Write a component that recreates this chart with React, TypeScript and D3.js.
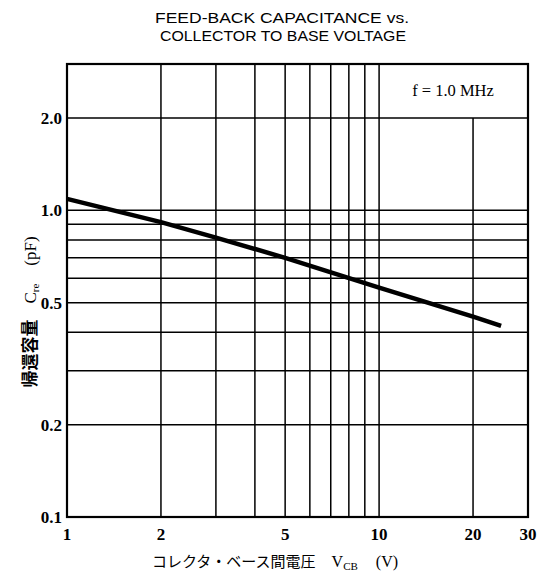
import React from "react";
import * as d3 from "d3";

const voltage = [1, 2, 3, 5, 10, 20, 24.6];
const capacitance = [1.09, 0.915, 0.815, 0.70, 0.56, 0.45, 0.42];

const xGrid = [2, 3, 4, 5, 6, 7, 8, 9, 10, 20];
const yGrid = [0.2, 0.3, 0.4, 0.5, 0.6, 0.7, 0.8, 0.9, 1.0, 2.0];
const xTicks = [1, 2, 5, 10, 20, 30];
const xTickLabels = ["1", "2", "5", "10", "20", "30"];
const yTicks = [0.1, 0.2, 0.5, 1.0, 2.0];
const yTickLabels = ["0.1", "0.2", "0.5", "1.0", "2.0"];

const W = 544;
const H = 572;
const L = 67, R = 528, T = 64, B = 517;

export default function App() {
  const x = d3.scaleLog().domain([1, 30]).range([L, R]);
  const y = d3.scaleLog().domain([0.1, 3]).range([B, T]);
  const line = d3
    .line<number>()
    .x((_, i) => x(voltage[i]))
    .y((d) => y(d))
    .curve(d3.curveLinear);

  const serif = "'Liberation Serif', 'DejaVu Serif', serif";
  const sans = "'Liberation Sans', Arial, sans-serif";
  const cjk = "'Noto Sans CJK JP', sans-serif";

  return (
    <svg
      width={W}
      height={H}
      style={{ position: "absolute", left: 0, top: 0, background: "#fff" }}
    >
      <rect x={0} y={0} width={W} height={H} fill="#fff" />
      {/* title */}
      <text x={282} y={23} fontFamily={sans} fontSize={14} textLength={254} lengthAdjust="spacingAndGlyphs" textAnchor="middle" fill="#000">
        FEED-BACK CAPACITANCE vs.
      </text>
      <text x={283} y={41} fontFamily={sans} fontSize={14} textLength={246} lengthAdjust="spacingAndGlyphs" textAnchor="middle" fill="#000">
        COLLECTOR TO BASE VOLTAGE
      </text>

      {/* grid */}
      {yGrid.map((v) => (
        <line key={"y" + v} x1={L} x2={R} y1={y(v)} y2={y(v)} stroke="#000" strokeWidth={1.5} />
      ))}
      {xGrid.map((v) => (
        <line
          key={"x" + v}
          x1={x(v)}
          x2={x(v)}
          y1={B}
          y2={v > 10 ? y(2) : T}
          stroke="#000"
          strokeWidth={1.5}
        />
      ))}
      <rect x={L} y={T} width={R - L} height={B - T} fill="none" stroke="#000" strokeWidth={2.2} />

      {/* legend */}
      <text x={453} y={96} fontFamily={serif} fontSize={16.5} textAnchor="middle" fill="#000">
        f = 1.0 MHz
      </text>

      {/* curve */}
      <path d={line(capacitance) || ""} fill="none" stroke="#000" strokeWidth={4.5} strokeLinecap="butt" />

      {/* y ticks */}
      {yTicks.map((v, i) => (
        <text key={"yt" + v} x={62} y={y(v) + 6} fontFamily={serif} fontSize={17} fontWeight="bold" textAnchor="end" fill="#000">
          {yTickLabels[i]}
        </text>
      ))}
      {/* x ticks */}
      {xTicks.map((v, i) => (
        <text key={"xt" + v} x={x(v)} y={540} fontFamily={serif} fontSize={17} fontWeight="bold" textAnchor="middle" fill="#000">
          {xTickLabels[i]}
        </text>
      ))}

      {/* x axis title */}
      <text x={275} y={567} fontFamily={serif} fontSize={16} textAnchor="middle" fill="#000">
        <tspan fontFamily={cjk} fontSize={15}>コレクタ・ベース間電圧</tspan>
        <tspan dx={16}>V</tspan>
        <tspan fontSize={11} dy={3}>CB</tspan>
        <tspan dy={-3} dx={18}>(V)</tspan>
      </text>

      {/* y axis title */}
      <text
        transform={`translate(36, 312) rotate(-90)`}
        fontFamily={serif}
        fontSize={17}
        textAnchor="middle"
        fill="#000"
      >
        <tspan fontFamily={cjk} fontSize={17} fontWeight="bold">帰還容量</tspan>
        <tspan dx={16}>C</tspan>
        <tspan fontSize={11} dy={3}>re</tspan>
        <tspan dy={-3} dx={18}>(pF)</tspan>
      </text>
    </svg>
  );
}
